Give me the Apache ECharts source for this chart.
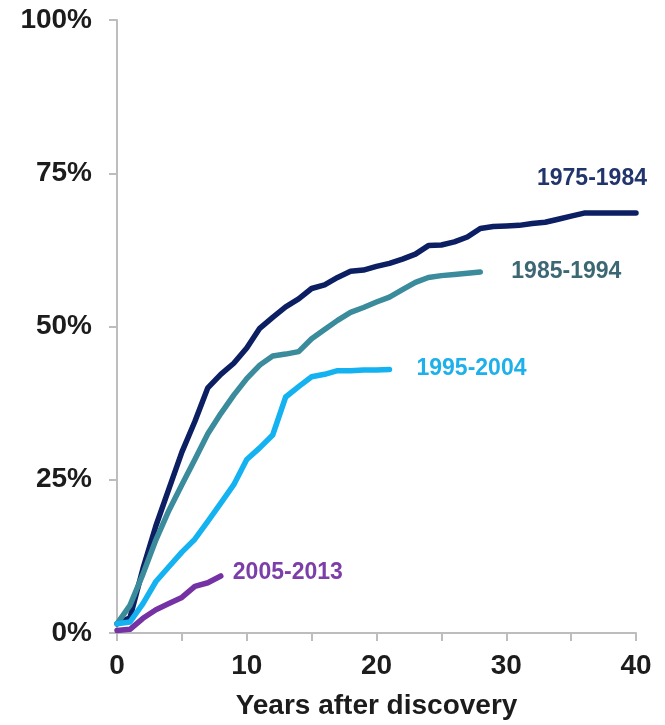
<!DOCTYPE html>
<html>
<head>
<meta charset="utf-8">
<script src="https://cdn.jsdelivr.net/npm/echarts@6/dist/echarts.min.js"></script>
<style>
  html, body { margin: 0; padding: 0; background: #ffffff; }
  #chart { width: 665px; height: 725px; }
</style>
</head>
<body>
<div id="chart"></div>
<script>
// Cumulative share (%) by years after discovery, one cohort per decade
const years = Array.from({ length: 41 }, (_, i) => i);

const cohort1975 = [1.5, 2.5, 10.5, 17.5, 23.5, 29.5, 34.5, 40.0, 42.2, 44.0,
  46.5, 49.7, 51.5, 53.2, 54.5, 56.2, 56.8, 58.0, 59.0, 59.2,
  59.8, 60.3, 61.0, 61.8, 63.2, 63.3, 63.8, 64.6, 66.0, 66.3,
  66.4, 66.5, 66.8, 67.0, 67.5, 68.0, 68.5, 68.5, 68.5, 68.5, 68.5];

const cohort1985 = [1.5, 4.5, 9.6, 15.2, 20.0, 24.2, 28.3, 32.5, 35.8, 38.8,
  41.5, 43.7, 45.2, 45.5, 45.9, 48.0, 49.5, 51.0, 52.3, 53.1,
  54.0, 54.8, 56.0, 57.2, 58.0, 58.3, 58.5, 58.7, 58.9];

const cohort1995 = [1.5, 1.8, 4.8, 8.4, 10.8, 13.2, 15.3, 18.2, 21.2, 24.2,
  28.3, 30.2, 32.3, 38.5, 40.2, 41.8, 42.2, 42.8, 42.8, 42.9,
  42.9, 43.0];

const cohort2005 = [0.4, 0.6, 2.4, 3.8, 4.8, 5.8, 7.6, 8.2, 9.3];

const seriesNames = ['1975-1984', '1985-1994', '1995-2004', '2005-2013'];
const yTicks = [0, 25, 50, 75, 100];

const pairs = arr => arr.map((v, i) => [years[i], v]);

const FONT = 'Liberation Sans, Arial, sans-serif';

function cohortSeries(name, values, lineColor, textColor, offset) {
  return {
    name: name,
    type: 'line',
    data: pairs(values),
    symbol: 'none',
    smooth: false,
    lineStyle: { color: lineColor, width: 5.5, cap: 'round', join: 'round' },
    endLabel: {
      show: true,
      formatter: name,
      color: textColor,
      fontFamily: FONT,
      fontWeight: 'bold',
      fontSize: 23,
      offset: offset
    },
    emphasis: { disabled: true }
  };
}

const chart = echarts.init(document.getElementById('chart'), null, { renderer: 'canvas' });

chart.setOption({
  animation: false,
  backgroundColor: '#ffffff',
  grid: { left: 117, right: 29, top: 20, bottom: 89, containLabel: false },
  xAxis: {
    type: 'value',
    min: 0,
    max: 40,
    interval: 5,
    name: 'Years after discovery',
    nameLocation: 'middle',
    nameGap: 59,
    nameTextStyle: { fontFamily: FONT, fontWeight: 'bold', fontSize: 28, color: '#1c1c1c' },
    axisLine: { show: true, lineStyle: { color: '#bdbdbd', width: 2 } },
    axisTick: { show: true, length: 8, lineStyle: { color: '#bdbdbd', width: 2 } },
    axisLabel: {
      margin: 19,
      fontFamily: FONT,
      fontWeight: 'bold',
      fontSize: 28,
      color: '#1c1c1c',
      formatter: v => (v % 10 === 0 ? String(v) : '')
    },
    splitLine: { show: false }
  },
  yAxis: {
    type: 'value',
    min: yTicks[0],
    max: yTicks[yTicks.length - 1],
    interval: 25,
    axisLine: { show: true, lineStyle: { color: '#bdbdbd', width: 2 } },
    axisTick: { show: true, length: 8, lineStyle: { color: '#bdbdbd', width: 2 } },
    axisLabel: {
      margin: 25,
      fontFamily: FONT,
      fontWeight: 'bold',
      fontSize: 28,
      color: '#1c1c1c',
      formatter: '{value}%'
    },
    splitLine: { show: false }
  },
  series: [
    cohortSeries(seriesNames[0], cohort1975, '#0c1f63', '#22346c', [-107, -34]),
    cohortSeries(seriesNames[1], cohort1985, '#3a8b9b', '#3c6874', [23, 0]),
    cohortSeries(seriesNames[2], cohort1995, '#14b2f0', '#1eb0ea', [19, -1]),
    cohortSeries(seriesNames[3], cohort2005, '#7432a4', '#7c3ea8', [4, -3])
  ]
});
</script>
</body>
</html>
